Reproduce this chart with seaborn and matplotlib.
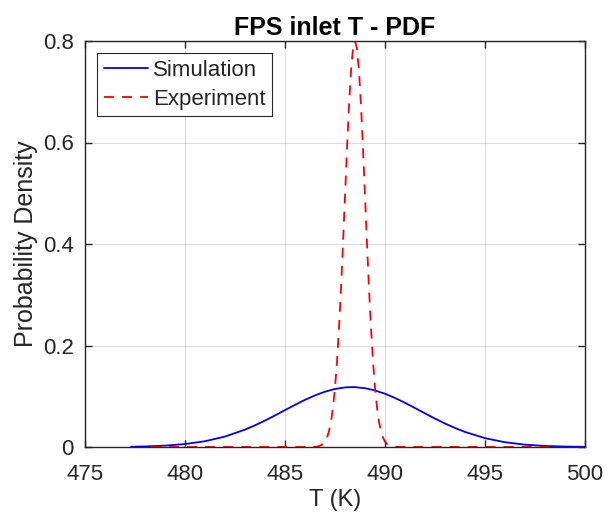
import numpy as np
import pandas as pd
import matplotlib
matplotlib.use("Agg")
import matplotlib.pyplot as plt
import seaborn as sns

# Simulation PDF
sim_x = [477.3, 478, 479, 480, 481, 482, 483, 483.5, 484, 484.5, 485, 485.5, 486, 486.5,
         487, 487.5, 488, 488.35, 488.5, 489, 489.5, 490, 490.5, 491, 491.5, 492, 492.5,
         493, 493.5, 494, 495, 496, 497, 498, 499, 500]
sim_y = [0.0006, 0.0011, 0.0027, 0.0058, 0.0114, 0.0206, 0.0342, 0.0427, 0.0521, 0.0622,
         0.0727, 0.0830, 0.0929, 0.1017, 0.1090, 0.1144, 0.1174, 0.1180, 0.1179, 0.1159,
         0.1114, 0.1049, 0.0966, 0.0871, 0.0768, 0.0663, 0.0560, 0.0463, 0.0375, 0.0297,
         0.0174, 0.0094, 0.0046, 0.0021, 0.0009, 0.0003]

# Experiment PDF
exp_x = [478.3, 486.0, 486.5, 486.7, 486.9, 487.0, 487.1, 487.2, 487.3, 487.4, 487.5, 487.6,
         487.7, 487.8, 487.9, 488.0, 488.1, 488.2, 488.3, 488.4, 488.5, 488.6, 488.7, 488.8,
         488.9, 489.0, 489.1, 489.2, 489.3, 489.4, 489.5, 489.6, 489.7, 489.8, 489.9, 490.0,
         490.1, 490.3, 490.5, 491.0, 498.3]
exp_y = [0.0, 0.0, 0.0004, 0.0016, 0.0058, 0.0106, 0.0185, 0.031, 0.050, 0.078, 0.117, 0.168,
         0.234, 0.312, 0.400, 0.495, 0.588, 0.673, 0.741, 0.785, 0.800, 0.785, 0.741, 0.673,
         0.588, 0.495, 0.400, 0.312, 0.234, 0.168, 0.117, 0.078, 0.050, 0.031, 0.0185, 0.0106,
         0.0058, 0.0016, 0.0004, 0.0, 0.0]

x_ticks = [475, 480, 485, 490, 495, 500]
y_ticks = [0, 0.2, 0.4, 0.6, 0.8]
y_tick_labels = ["0", "0.2", "0.4", "0.6", "0.8"]

sns.set_style("white")
plt.rcParams['font.family'] = ['Liberation Sans', 'DejaVu Sans']

fig = plt.figure(figsize=(6.11, 5.2), dpi=100)
ax = fig.add_axes([85/611, 1 - 447/520, 500/611, 406/520])

sim_df = pd.DataFrame({"T": sim_x, "pdf": sim_y})
exp_df = pd.DataFrame({"T": exp_x, "pdf": exp_y})

sns.lineplot(data=sim_df, x="T", y="pdf", ax=ax, color=(0, 0, 1), linewidth=1.3,
             label="Simulation", sort=False)
sns.lineplot(data=exp_df, x="T", y="pdf", ax=ax, color=(1, 0, 0), linewidth=1.3,
             label="Experiment", sort=False, dashes=False, linestyle=(0, (5.5, 4.5)))

ax.set_xlim(475, 500)
ax.set_ylim(0, 0.8)
ax.set_xticks(x_ticks)
ax.set_yticks(y_ticks)
ax.set_yticklabels(y_tick_labels)

dark = (0.15, 0.15, 0.15)
ax.grid(True, color=(0.15, 0.15, 0.15), alpha=0.16, linewidth=0.8)
for s in ax.spines.values():
    s.set_color(dark)
    s.set_linewidth(1.0)
    s.set_visible(True)
ax.tick_params(direction="in", length=5, width=1.0, color=dark, labelcolor=dark,
               labelsize=16, top=True, right=True, bottom=True, left=True)
ax.tick_params(axis="x", pad=12)
ax.tick_params(axis="y", pad=8)

ax.set_xlabel("T (K)", fontsize=17, color=dark, labelpad=3)
ax.set_ylabel("Probability Density", fontsize=18, color=dark)
ax.yaxis.set_label_coords(-0.094, 0.5)
ax.set_title("FPS inlet T - PDF", fontsize=18, fontweight="bold", color="black", pad=4)

leg = ax.legend(loc="upper left", fontsize=16, frameon=True, fancybox=False,
                handlelength=2.0, handletextpad=0.22, borderpad=0.3, labelspacing=0.36,
                borderaxespad=0.54)
leg.get_frame().set_edgecolor(dark)
leg.get_frame().set_linewidth(0.8)
leg.get_frame().set_alpha(1)

fig.savefig("out.png", dpi=100)
